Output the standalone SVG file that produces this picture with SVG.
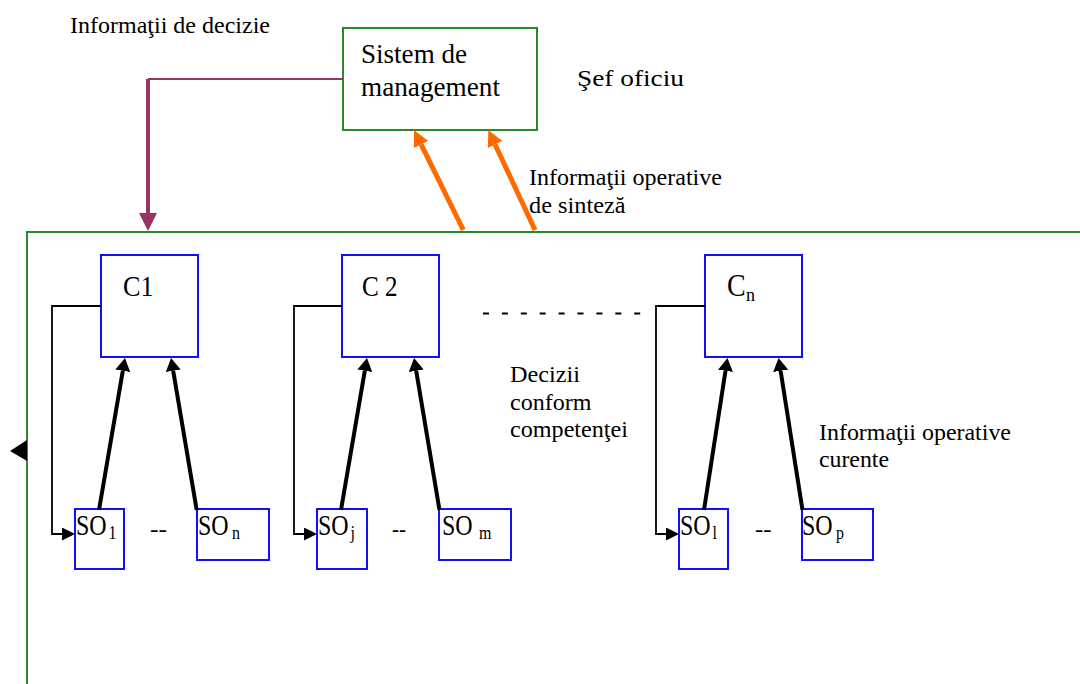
<svg xmlns="http://www.w3.org/2000/svg" width="1080" height="684" viewBox="0 0 1080 684">
  <style>
    .lbl { font-family: "Liberation Serif", "Times New Roman", serif; font-size: 24px; fill: #000; }
    .big { font-size: 27px; }
    .cname { font-family: "Liberation Serif", "Times New Roman", serif; font-size: 30px; fill: #000; }
    .so { font-family: "Liberation Serif", "Times New Roman", serif; font-size: 24px; fill: #000; }
    .sub { font-family: "Liberation Serif", "Times New Roman", serif; font-size: 16px; fill: #000; }
    .cbig { font-size: 28px; }
    .csub { font-size: 18px; }
    .green { fill: #fff; stroke: #2a8a2a; stroke-width: 2; }
    .blue { fill: #fff; stroke: #1010ff; stroke-width: 2; }
    .up { stroke: #000; stroke-width: 4; fill: none; marker-end: url(#headBlack); }
    .fb { stroke: #000; stroke-width: 1.8; fill: none; marker-end: url(#headFb); }
    .syn { stroke: #ff6a00; stroke-width: 5; fill: none; marker-end: url(#headOrange); }
  </style>
  <defs>
    <marker id="headBlack" markerUnits="userSpaceOnUse" viewBox="0 0 13 15" refX="0" refY="7.5" markerWidth="13" markerHeight="15" orient="auto">
      <path d="M0,0 L13,7.5 L0,15 z" fill="#000"/>
    </marker>
    <marker id="headFb" markerUnits="userSpaceOnUse" viewBox="0 0 13 13" refX="0" refY="6.5" markerWidth="13" markerHeight="13" orient="auto">
      <path d="M0,0 L13,6.5 L0,13 z" fill="#000"/>
    </marker>
    <marker id="headOrange" markerUnits="userSpaceOnUse" viewBox="0 0 16 16" refX="0" refY="8" markerWidth="16" markerHeight="16" orient="auto">
      <path d="M0,0 L16,8 L0,16 z" fill="#ff6a00"/>
    </marker>
    <marker id="headPurple" markerUnits="userSpaceOnUse" viewBox="0 0 18 18" refX="0" refY="9" markerWidth="18" markerHeight="18" orient="auto">
      <path d="M0,0 L18,9 L0,18 z" fill="#993366"/>
    </marker>
  </defs>

  <!-- office boundary (open to the right and bottom) -->
  <g id="office">
    <path d="M27,690 V232 H1085" fill="none" stroke="#2a8a2a" stroke-width="2"/>
  </g>

  <!-- management system -->
  <g id="management">
    <rect class="green" x="343" y="28" width="194" height="102"/>
    <text class="lbl big" x="361" y="63" textLength="106" lengthAdjust="spacingAndGlyphs">Sistem de</text>
    <text class="lbl big" x="361" y="96" textLength="139" lengthAdjust="spacingAndGlyphs">management</text>
  </g>

  <!-- compartments -->
  <g id="c1">
    <rect class="blue" x="101" y="255" width="97" height="102"/>
    <text class="cname" x="123" y="296" textLength="30.5" lengthAdjust="spacingAndGlyphs">C1</text>
  </g>
  <g id="c2">
    <rect class="blue" x="342" y="255" width="97" height="102"/>
    <text class="cname" x="362" y="296" textLength="35.5" lengthAdjust="spacingAndGlyphs">C 2</text>
  </g>
  <g id="cn">
    <rect class="blue" x="705" y="255" width="97" height="102"/>
    <text class="so cbig" transform="translate(727,296) scale(1,1.1)">C</text>
    <text class="sub csub" transform="translate(746,301) scale(1,1.1)">n</text>
  </g>

  <!-- operative sub-units -->
  <g id="so1">
    <rect class="blue" x="75" y="509" width="49" height="60"/>
    <text class="so" transform="translate(76,535) scale(1,1.2)">SO</text>
    <text class="sub" transform="translate(108.5,538.5) scale(1,1.2)">1</text>
  </g>
  <g id="son">
    <rect class="blue" x="197" y="509" width="72" height="51"/>
    <text class="so" transform="translate(198,535) scale(1,1.2)">SO</text>
    <text class="sub" transform="translate(232,538.5) scale(1,1.2)">n</text>
  </g>
  <g id="soj">
    <rect class="blue" x="317" y="509" width="50" height="60"/>
    <text class="so" transform="translate(318,535) scale(1,1.2)">SO</text>
    <text class="sub" transform="translate(350.5,538.5) scale(1,1.2)">j</text>
  </g>
  <g id="som">
    <rect class="blue" x="439" y="509" width="72" height="51"/>
    <text class="so" transform="translate(442,535) scale(1,1.2)">SO</text>
    <text class="sub" transform="translate(479,538.5) scale(1,1.2)">m</text>
  </g>
  <g id="sok">
    <rect class="blue" x="679" y="509" width="49" height="60"/>
    <text class="so" transform="translate(680,535) scale(1,1.2)">SO</text>
    <text class="sub" transform="translate(712.5,538.5) scale(1,1.2)">l</text>
  </g>
  <g id="sop">
    <rect class="blue" x="802" y="509" width="71" height="51"/>
    <text class="so" transform="translate(802,535) scale(1,1.2)">SO</text>
    <text class="sub" transform="translate(836,538.5) scale(1,1.2)">p</text>
  </g>

  <!-- connectors -->
  <g id="connectors">
    <!-- decision information from management down to the office -->
    <path d="M343,79 H148" fill="none" stroke="#993366" stroke-width="2"/>
    <path d="M148,79 V213" fill="none" stroke="#993366" stroke-width="4" marker-end="url(#headPurple)"/>

    <!-- synthesis information up to management -->
    <path class="syn" d="M463.3,230 L421.1,144.4"/>
    <path class="syn" d="M535,230 L495.1,144.5"/>

    <!-- current operative information up to each compartment -->
    <path class="up" d="M99,510 L122.8,370.8"/>
    <path class="up" d="M196.7,510 L173.2,370.8"/>
    <path class="up" d="M341,510 L364.8,370.8"/>
    <path class="up" d="M439.5,510 L416.2,370.8"/>
    <path class="up" d="M704,510 L725.5,370.8"/>
    <path class="up" d="M802.5,510 L780.6,370.8"/>

    <!-- decisions back down to the sub-units -->
    <path class="fb" d="M101,306 H52 V534 H62"/>
    <path class="fb" d="M342,306 H294 V534 H304"/>
    <path class="fb" d="M705,306 H656 V534 H666"/>

    <!-- arrowhead on the office boundary -->
    <polygon points="10,451 27,440 27,461" fill="#000"/>

    <!-- continuation between compartments -->
    <line x1="483" y1="313.5" x2="641" y2="313.5" stroke="#000" stroke-width="2" stroke-dasharray="6 12.9"/>
  </g>

  <!-- labels -->
  <g id="labels">
    <text class="lbl" x="70" y="33" textLength="200" lengthAdjust="spacingAndGlyphs">Informaţii de decizie</text>
    <text class="lbl" x="577" y="86" textLength="107" lengthAdjust="spacingAndGlyphs">Şef oficiu</text>
    <text class="lbl" x="529" y="185" textLength="193" lengthAdjust="spacingAndGlyphs">Informaţii operative</text>
    <text class="lbl" x="529" y="213" textLength="96.5" lengthAdjust="spacingAndGlyphs">de sinteză</text>
    <text class="lbl" x="510" y="382" textLength="70" lengthAdjust="spacingAndGlyphs">Decizii</text>
    <text class="lbl" x="510" y="410" textLength="81.5" lengthAdjust="spacingAndGlyphs">conform</text>
    <text class="lbl" x="510" y="437" textLength="118" lengthAdjust="spacingAndGlyphs">competenţei</text>
    <text class="lbl" x="819" y="440" textLength="192" lengthAdjust="spacingAndGlyphs">Informaţii operative</text>
    <text class="lbl" x="819" y="467" textLength="70" lengthAdjust="spacingAndGlyphs">curente</text>
    <text class="lbl" x="150" y="537" textLength="17" lengthAdjust="spacingAndGlyphs">--</text>
    <text class="lbl" x="392" y="537" textLength="14" lengthAdjust="spacingAndGlyphs">--</text>
    <text class="lbl" x="755" y="537" textLength="16.5" lengthAdjust="spacingAndGlyphs">--</text>
  </g>
</svg>
